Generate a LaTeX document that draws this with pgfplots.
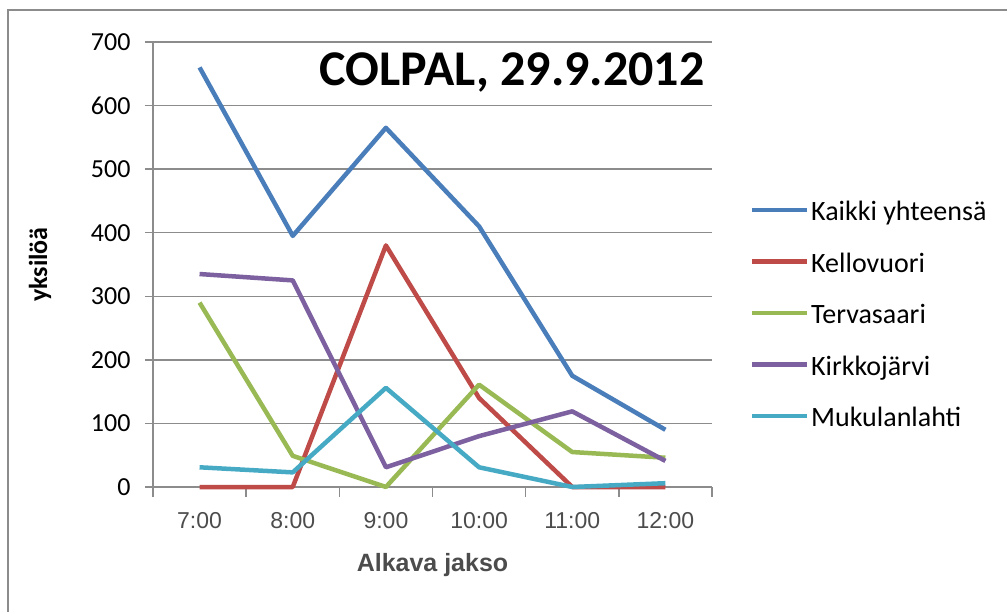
\documentclass[border=0pt]{standalone}
\usepackage{pgfplots}
\pgfplotsset{compat=1.18}
\usepackage{fontspec}
\setmainfont{Carlito}
\newfontfamily\arialf{Liberation Sans}
\definecolor{cBlue}{HTML}{4A7EBB}
\definecolor{cRed}{HTML}{BE4B48}
\definecolor{cGreen}{HTML}{98B954}
\definecolor{cPurple}{HTML}{7D60A0}
\definecolor{cCyan}{HTML}{46AAC5}
\definecolor{gridg}{HTML}{8C8C8C}
\begin{document}
\begin{tikzpicture}
\path[use as bounding box] (-153bp,-125bp) rectangle (854bp,487bp);
\begin{axis}[
  scale only axis,
  width=559bp, height=445bp,
  at={(0,0)}, anchor=south west,
  xmin=0.5, xmax=6.5, ymin=0, ymax=700,
  xtick={1,2,3,4,5,6},
  xticklabels={7:00,8:00,9:00,10:00,11:00,12:00},
  minor xtick={0.5,1.5,2.5,3.5,4.5,5.5,6.5},
  ytick={0,100,200,300,400,500,600,700},
  axis x line*=bottom, axis y line*=left,
  axis line style={gridg, line width=1.5bp, -},
  ymajorgrids,
  grid style={gridg, line width=1.5bp},
  major tick style={gridg, line width=1.5bp},
  minor tick style={gridg, line width=1.5bp},
  xtick style={draw=none},
  minor x tick style={draw=gridg},
  tick align=outside,
  major tick length=8bp, minor tick length=10bp,
  yticklabel style={font=\fontsize{26bp}{30bp}\selectfont, text=black, xshift=-11bp},
  xticklabel style={font=\arialf\fontsize{23bp}{27bp}\selectfont, text=black!70, yshift=-14bp},
  /pgf/number format/assume math mode=true,
  ylabel={\bfseries yksilöä},
  ylabel style={font=\fontsize{26bp}{30bp}\selectfont, at={(rel axis cs:-0.2021,0.5)}, anchor=center},
  xlabel={\bfseries Alkava jakso},
  xlabel style={font=\arialf\fontsize{25bp}{29bp}\selectfont, text=black!70, at={(rel axis cs:0.5,-0.175)}, anchor=center},
  legend style={at={(rel axis cs:1.0626,0.665)}, anchor=north west, draw=none, fill=none,
    font=\fontsize{28bp}{32bp}\selectfont,
    nodes={inner sep=1.5bp, text height=26bp, text depth=22.5bp}},
  legend cell align=left,
  legend image code/.code={\draw[#1, line width=4.5bp] (0bp,9bp) -- (55bp,9bp);},
  every axis plot/.append style={line width=4.5bp, line join=round},
  clip=false,
]
\addplot[cBlue] coordinates {(1,660) (2,395) (3,565) (4,410) (5,175) (6,90)};
\addlegendentry{Kaikki yhteensä}
\addplot[cRed] coordinates {(1,0) (2,0) (3,380) (4,140) (5,0) (6,0)};
\addlegendentry{Kellovuori}
\addplot[cGreen] coordinates {(1,290) (2,49) (3,0) (4,161) (5,55) (6,46)};
\addlegendentry{Tervasaari}
\addplot[cPurple] coordinates {(1,335) (2,325) (3,31) (4,80) (5,119) (6,41)};
\addlegendentry{Kirkkojärvi}
\addplot[cCyan] coordinates {(1,31) (2,23) (3,156) (4,31) (5,0) (6,6)};
\addlegendentry{Mukulanlahti}
\node[anchor=base east, font=\bfseries\fontsize{50bp}{56bp}\selectfont, inner sep=0pt] at (rel axis cs:0.987,0.903) {COLPAL, 29.9.2012};
\end{axis}
\draw[gridg, line width=2bp] (-145bp,-125bp) -- (-145bp,477bp) -- (854bp,477bp);
\end{tikzpicture}
\end{document}
